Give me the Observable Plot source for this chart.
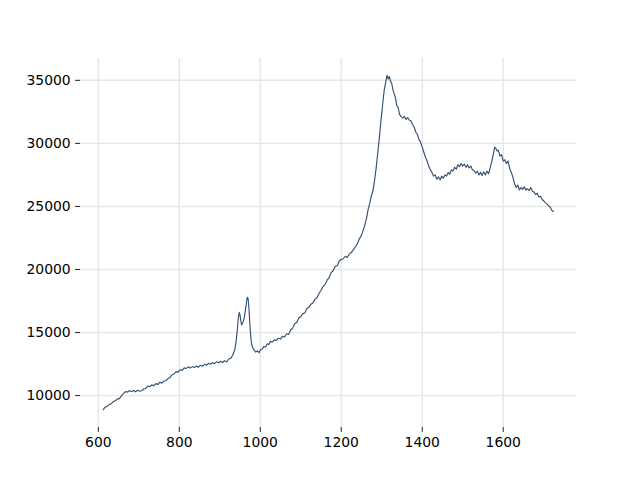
<!DOCTYPE html>
<html>
<head>
<meta charset="utf-8">
<script src="https://cdn.jsdelivr.net/npm/d3@7"></script>
<script src="https://cdn.jsdelivr.net/npm/@observablehq/plot@0.6"></script>
<style>
  html, body { margin: 0; padding: 0; background: #fff; }
  svg { display: block; }
</style>
</head>
<body>
<div id="chart"></div>
<script>
const wavenumber = [
  612,617,622,627,632,637,642,647,652,657,662,667,672,677,682,687,692,697,702,707,
  712,717,722,727,732,737,742,747,752,757,762,767,772,777,782,787,792,797,802,807,
  812,817,822,827,832,837,842,847,852,857,862,867,872,877,882,887,892,897,902,907,
  912,917,922,927,932,937,940,943,946,948,950,952,954,957,960,963,966,968,970,972,
  974,976,978,981,985,989,993,997,1001,1005,1009,1013,1017,1021,1025,1030,1035,1040,1045,1050,
  1055,1060,1065,1070,1075,1080,1085,1090,1095,1100,1105,1110,1115,1120,1125,1130,1135,1140,1145,1150,
  1155,1160,1165,1170,1175,1180,1185,1190,1195,1200,1205,1210,1215,1220,1225,1230,1235,1240,1245,1250,
  1254,1258,1262,1266,1270,1274,1278,1282,1286,1290,1294,1298,1302,1306,1310,1313,1316,1319,1322,1325,
  1328,1331,1334,1337,1340,1344,1348,1352,1356,1360,1364,1368,1372,1376,1380,1384,1388,1392,1396,1400,
  1404,1408,1412,1416,1420,1424,1428,1432,1436,1440,1444,1448,1452,1456,1460,1464,1468,1472,1476,1480,
  1484,1488,1492,1496,1500,1504,1508,1512,1516,1520,1524,1528,1532,1536,1540,1544,1548,1552,1556,1560,
  1564,1568,1572,1576,1579,1582,1585,1588,1592,1596,1600,1604,1608,1612,1616,1620,1624,1628,1632,1636,
  1640,1644,1648,1652,1656,1660,1664,1668,1672,1676,1680,1684,1688,1692,1696,1700,1704,1708,1712,1716,
  1720,1724
];
const intensity = [
  8890,9080,9150,9300,9360,9520,9590,9720,9760,9980,10150,10310,10280,10390,10320,10400,10300,10420,10350,10380,
  10520,10560,10760,10700,10850,10780,10950,10880,11060,10990,11150,11180,11350,11420,11650,11720,11900,11860,12050,12000,
  12200,12150,12280,12180,12300,12220,12350,12250,12400,12330,12480,12400,12560,12480,12620,12530,12680,12600,12720,12620,
  12760,12680,12900,12950,13200,13640,14200,15100,16200,16600,16400,15900,15600,15800,16100,16700,17400,17800,17700,16900,
  15800,14900,14200,13800,13600,13450,13550,13400,13650,13700,13900,13850,14100,14050,14300,14250,14420,14380,14550,14480,
  14700,14650,14900,14850,15200,15350,15700,15800,16150,16250,16500,16550,16900,17000,17250,17350,17650,17750,18100,18350,
  18650,18800,19150,19350,19750,19900,20250,20300,20650,20800,20850,21050,20950,21250,21350,21550,21800,22050,22450,22700,
  23100,23500,24000,24700,25200,25800,26200,27000,28000,29200,30400,31800,33000,34200,34900,35400,35100,35300,34900,34700,
  34200,33900,33600,33000,32900,32300,32100,32000,32150,31900,32050,31850,31800,31500,31300,30900,30700,30300,30100,29700,
  29300,28900,28600,28200,27900,27700,27400,27500,27150,27350,27100,27400,27250,27500,27400,27700,27550,27900,27800,28100,
  27950,28300,28150,28400,28200,28350,28100,28300,28050,28200,27900,27850,27650,27800,27500,27700,27450,27750,27500,27800,
  27600,28100,28600,29200,29700,29600,29400,29450,29000,29100,28600,28700,28400,28600,28000,27700,27300,26800,26500,26700,
  26300,26500,26350,26550,26300,26400,26250,26500,26200,26150,25950,26050,25750,25800,25550,25450,25300,25200,25050,24950,
  24700,24600
];
const xTicks = [600, 800, 1000, 1200, 1400, 1600];
const yTicks = [10000, 15000, 20000, 25000, 30000, 35000];

const data = wavenumber.map((w, i) => ({x: w, y: intensity[i]}));

const chart = Plot.plot({
  width: 640,
  height: 480,
  marginLeft: 80,
  marginRight: 64,
  marginTop: 58,
  marginBottom: 53,
  style: {fontFamily: "DejaVu Sans", fontSize: "13.9px", color: "#000", background: "#fff"},
  x: {domain: [556, 1781], label: null},
  y: {domain: [7470, 36730], label: null},
  marks: [
    Plot.gridX(xTicks, {stroke: "#e6e6e6", strokeOpacity: 1, strokeWidth: 1.4}),
    Plot.gridY(yTicks, {stroke: "#e6e6e6", strokeOpacity: 1, strokeWidth: 1.4}),
    Plot.axisX(xTicks, {tickSize: 4.9, tickPadding: 4.9, stroke: "#000", strokeWidth: 0.9, label: null, tickFormat: d => String(d)}),
    Plot.axisY(yTicks, {tickSize: 4.9, tickPadding: 4.9, stroke: "#000", strokeWidth: 0.9, label: null, tickFormat: d => String(d)}),
    Plot.line(data, {x: "x", y: "y", stroke: "#34506f", strokeWidth: 1.15})
  ]
});
document.getElementById("chart").appendChild(chart);
</script>
</body>
</html>
